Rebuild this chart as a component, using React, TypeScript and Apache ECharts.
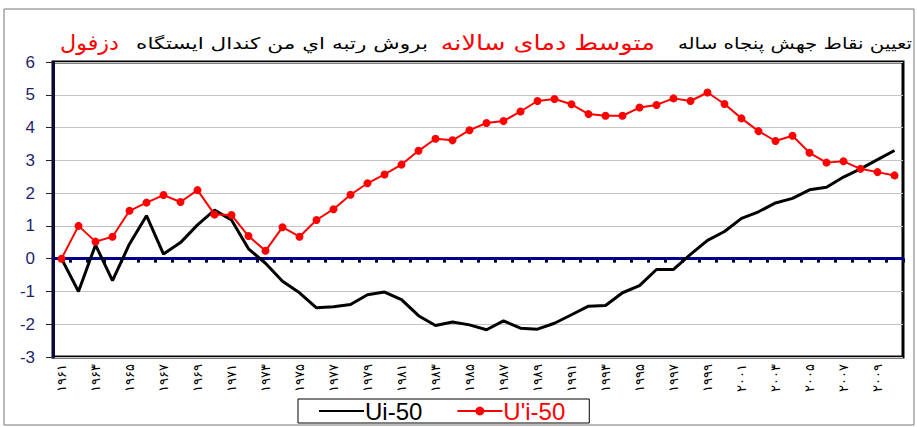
import React, { useEffect, useRef } from "react";
import * as echarts from "echarts";

const years = [
  "۱۹۶۱", "۱۹۶۲", "۱۹۶۳", "۱۹۶۴", "۱۹۶۵", "۱۹۶۶", "۱۹۶۷", "۱۹۶۸", "۱۹۶۹", "۱۹۷۰",
  "۱۹۷۱", "۱۹۷۲", "۱۹۷۳", "۱۹۷۴", "۱۹۷۵", "۱۹۷۶", "۱۹۷۷", "۱۹۷۸", "۱۹۷۹", "۱۹۸۰",
  "۱۹۸۱", "۱۹۸۲", "۱۹۸۳", "۱۹۸۴", "۱۹۸۵", "۱۹۸۶", "۱۹۸۷", "۱۹۸۸", "۱۹۸۹", "۱۹۹۰",
  "۱۹۹۱", "۱۹۹۲", "۱۹۹۳", "۱۹۹۴", "۱۹۹۵", "۱۹۹۶", "۱۹۹۷", "۱۹۹۸", "۱۹۹۹", "۲۰۰۰",
  "۲۰۰۱", "۲۰۰۲", "۲۰۰۳", "۲۰۰۴", "۲۰۰۵", "۲۰۰۶", "۲۰۰۷", "۲۰۰۸", "۲۰۰۹", "۲۰۱۰",
];

const ui50 = [
  0, -1.0, 0.42, -0.67, 0.45, 1.31, 0.14, 0.49, 1.03, 1.48,
  1.18, 0.3, -0.14, -0.69, -1.04, -1.5, -1.47, -1.4, -1.1, -1.02,
  -1.25, -1.74, -2.04, -1.93, -2.02, -2.17, -1.9, -2.12, -2.15, -1.97,
  -1.71, -1.45, -1.43, -1.04, -0.82, -0.33, -0.33, 0.13, 0.56, 0.83,
  1.23, 1.43, 1.7, 1.84, 2.1, 2.18, 2.49, 2.74, 3.02, 3.3,
];

const uPrime50 = [
  0, 1.0, 0.52, 0.67, 1.46, 1.71, 1.94, 1.73, 2.09, 1.35,
  1.33, 0.69, 0.24, 0.96, 0.67, 1.18, 1.51, 1.95, 2.3, 2.57,
  2.87, 3.29, 3.66, 3.61, 3.92, 4.14, 4.2, 4.49, 4.81, 4.87,
  4.71, 4.41, 4.36, 4.36, 4.61, 4.69, 4.89, 4.81, 5.07, 4.72,
  4.28, 3.89, 3.59, 3.75, 3.23, 2.93, 2.97, 2.74, 2.64, 2.54,
];

const seriesNames = ["Ui-50", "U'i-50"];
const titleParts = [
  "تعیین نقاط جهش پنجاه ساله",
  "متوسط دمای سالانه",
  "بروش رتبه اي من كندال ايستگاه",
  "دزفول",
];

export default function App() {
  const ref = useRef<HTMLDivElement>(null);
  useEffect(() => {
    if (!ref.current) return;
    const chart = echarts.init(ref.current, null, { renderer: "svg" });
    const persian = "DejaVu Sans";
    const titleText = (text: string, right: number, size: number, color: string, sx: number) => ({
      type: "text",
      x: right,
      y: 43,
      scaleX: sx,
      style: {
        text,
        fill: color,
        font: `${size}px '${persian}'`,
        textAlign: "right",
        textVerticalAlign: "middle",
      },
    });
    chart.setOption({
      animation: false,
      backgroundColor: "#fff",
      graphic: [
        {
          type: "rect",
          shape: { x: 4, y: 9, width: 910, height: 416 },
          style: { fill: "none", stroke: "#777", lineWidth: 1 },
        },
        titleText(titleParts[0], 912, 16, "#000", 1.24),
        titleText(titleParts[1], 655, 21, "#ff0000", 1.22),
        titleText(titleParts[2], 428, 16, "#000", 1.35),
        titleText(titleParts[3], 119, 21, "#ff0000", 1.06),
      ],
      legend: {
        left: 298,
        top: 399,
        padding: [0, 24, 0, 20],
        itemGap: 34,
        itemWidth: 45,
        itemHeight: 11,
        borderColor: "#000",
        borderWidth: 1,
        borderRadius: 0,
        textStyle: { fontSize: 24, fontFamily: "Liberation Sans", padding: [0, 0, 0, -4] },
        data: [
          {
            name: seriesNames[0],
            textStyle: { color: "#000" },
            itemStyle: { color: "rgba(0,0,0,0)", borderWidth: 0 },
          },
          { name: seriesNames[1], textStyle: { color: "#ff0000" } },
        ],
      },
      grid: {
        left: 53,
        right: 14,
        top: 62,
        height: 295,
        show: true,
        borderColor: "#000",
        borderWidth: 3,
        backgroundColor: "transparent",
      },
      xAxis: [
        {
          type: "category",
          data: years,
          boundaryGap: true,
          position: "bottom",
          axisLine: { show: false, onZero: false },
          axisTick: { show: false },
          axisLabel: {
            interval: 1,
            rotate: 90,
            margin: 7,
            fontSize: 13,
            color: "#000",
            fontFamily: persian,
          },
          splitLine: { show: false },
        },
        {
          type: "category",
          data: years,
          boundaryGap: true,
          position: "bottom",
          axisLine: { show: true, onZero: true, lineStyle: { color: "#000090", width: 3 } },
          axisTick: { show: true, interval: 0, length: 4, lineStyle: { color: "#000050", width: 3 } },
          axisLabel: { show: false },
          splitLine: { show: false },
        },
      ],
      yAxis: {
        type: "value",
        min: -3,
        max: 6,
        interval: 1,
        axisLine: { show: true, lineStyle: { color: "#0a0a3a", width: 3 } },
        axisTick: { show: true, length: 7, lineStyle: { color: "#222", width: 1 } },
        axisLabel: { color: "#1f1f70", fontSize: 17, fontFamily: "Liberation Sans", margin: 18 },
        splitLine: { show: true, lineStyle: { color: "#c4c4c4", width: 1 } },
      },
      series: [
        {
          name: seriesNames[0],
          type: "line",
          xAxisIndex: 0,
          data: ui50,
          symbol: "none",
          lineStyle: { color: "#000", width: 3 },
          itemStyle: { color: "#000" },
          z: 3,
        },
        {
          name: seriesNames[1],
          type: "line",
          xAxisIndex: 0,
          data: uPrime50,
          symbol: "circle",
          symbolSize: 8,
          lineStyle: { color: "#ff0000", width: 2 },
          itemStyle: { color: "#ff0000" },
          z: 4,
        },
      ],
    });
    return () => chart.dispose();
  }, []);
  return (
    <div
      ref={ref}
      style={{ position: "fixed", left: 0, top: 0, width: 917, height: 427 }}
    />
  );
}
